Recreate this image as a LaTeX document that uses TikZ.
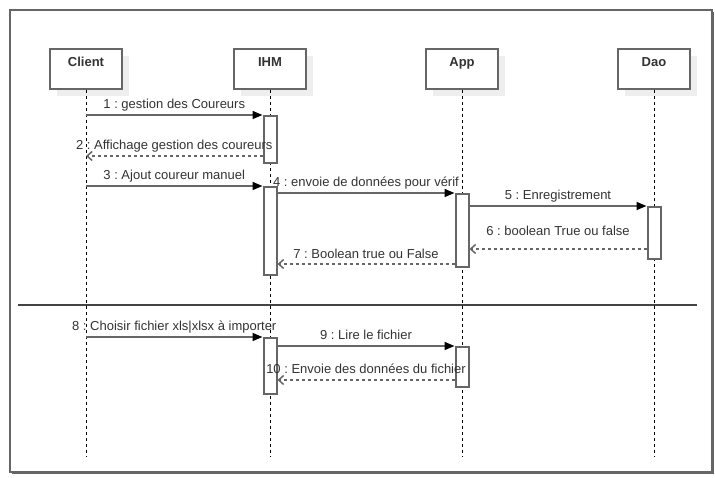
\documentclass[tikz,border=0pt]{standalone}
\usepackage{fontspec}
\setmainfont{Liberation Sans}
\usetikzlibrary{calc,positioning,arrows.meta,shadows}
\definecolor{boxgray}{HTML}{666666}
\definecolor{txtgray}{HTML}{333333}
\definecolor{shadowgray}{HTML}{EEEEEE}
\definecolor{sepgray}{HTML}{444444}
\frenchspacing

\begin{document}
\begin{tikzpicture}[x=1pt,y=-1pt,font=\fontsize{13}{15}\selectfont,
    head/.style={draw=boxgray,line width=2pt,fill=white,minimum width=72pt,minimum height=40pt,inner sep=0pt,
        drop shadow={shadow xshift=7pt,shadow yshift=-7pt,fill=shadowgray,opacity=1}},
    headtext/.style={font=\fontsize{13}{15}\selectfont\bfseries,text=txtgray},
    life/.style={black,line width=1pt,dash pattern=on 3pt off 3pt},
    act/.style={draw=boxgray,line width=2pt,fill=white,minimum width=13pt,inner sep=0pt,anchor=north},
    msg/.style={boxgray,line width=1.7pt,-{Triangle[color=black,length=10pt,width=8pt]}},
    ret/.style={boxgray,line width=1.5pt,dash pattern=on 3pt off 3pt,-{Straight Barb[length=5pt,width=9pt]}},
    lbl/.style={text=txtgray,inner sep=2.5pt,text height=9.5pt,text depth=3pt}]
    \useasboundingbox (0,0) rectangle (715,478);
    % frame
    \draw[boxgray,line width=1.5pt,fill=white,drop shadow={shadow xshift=2pt,shadow yshift=-2pt,fill=boxgray,opacity=1}]
        (10,10) rectangle (712,472);
    % heads
    \node[head] (client) at (86,69) {};
    \node[headtext,below=6pt of client.north] {Client};
    \node[head] (ihm) at (270,69) {};
    \node[headtext,below=6pt of ihm.north] {IHM};
    \node[head] (app) at (462,69) {};
    \node[headtext,below=6pt of app.north] {App};
    \node[head] (dao) at (654,69) {};
    \node[headtext,below=6pt of dao.north] {Dao};
    % lifelines
    \coordinate (bottom) at (0,457);
    \foreach \p in {client,ihm,app,dao}
        \draw[life] (\p.south) -- (\p.south |- bottom);
    % activations
    \node[act,minimum height=47pt] (ihmA) at (270,115) {};
    \node[act,minimum height=88pt] (ihmB) at (270,186) {};
    \node[act,minimum height=73pt] (appA) at (462,193) {};
    \node[act,minimum height=52pt] (daoA) at (654,206) {};
    \node[act,minimum height=56pt] (ihmC) at (270,337) {};
    \node[act,minimum height=40pt] (appB) at (462,346) {};
    % messages
    \draw[msg] (client |- ihmA.north) -- (ihmA.north west)
        node[lbl,midway,above] {1 : gestion des Coureurs};
    \coordinate (r2) at ([yshift=8pt]ihmA.south west);
    \draw[ret] (r2) -- (client |- r2)
        node[lbl,midway,above] {2 : Affichage gestion des coureurs};
    \draw[msg] (client |- ihmB.north) -- (ihmB.north west)
        node[lbl,midway,above] {3 : Ajout coureur manuel};
    \draw[msg] (ihmB.east |- appA.north) -- (appA.north west)
        node[lbl,midway,above] {4 : envoie de données pour vérif};
    \draw[msg] (appA.east |- daoA.north) -- (daoA.north west)
        node[lbl,midway,above] {5 : Enregistrement};
    \coordinate (r6) at ([yshift=11pt]daoA.south west);
    \draw[ret] (r6) -- (appA.east |- r6)
        node[lbl,midway,above,yshift=7pt] {6 : boolean True ou false};
    \coordinate (r7) at ([yshift=4pt]appA.south west);
    \draw[ret] (r7) -- (ihmB.east |- r7)
        node[lbl,midway,above,yshift=-1pt] {7 : Boolean true ou False};
    % separator
    \draw[sepgray,line width=2pt] (18,305) -- (697,305);
    \draw[msg] (client |- ihmC.north) -- (ihmC.north west)
        node[lbl,midway,above] {8 : Choisir fichier xls|xlsx à importer};
    \draw[msg] (ihmC.east |- appB.north) -- (appB.north west)
        node[lbl,midway,above] {9 : Lire le fichier};
    \coordinate (r10) at ([yshift=8pt]appB.south west);
    \draw[ret] (r10) -- (ihmC.east |- r10)
        node[lbl,midway,above] {10 : Envoie des données du fichier};
\end{tikzpicture}
\end{document}
